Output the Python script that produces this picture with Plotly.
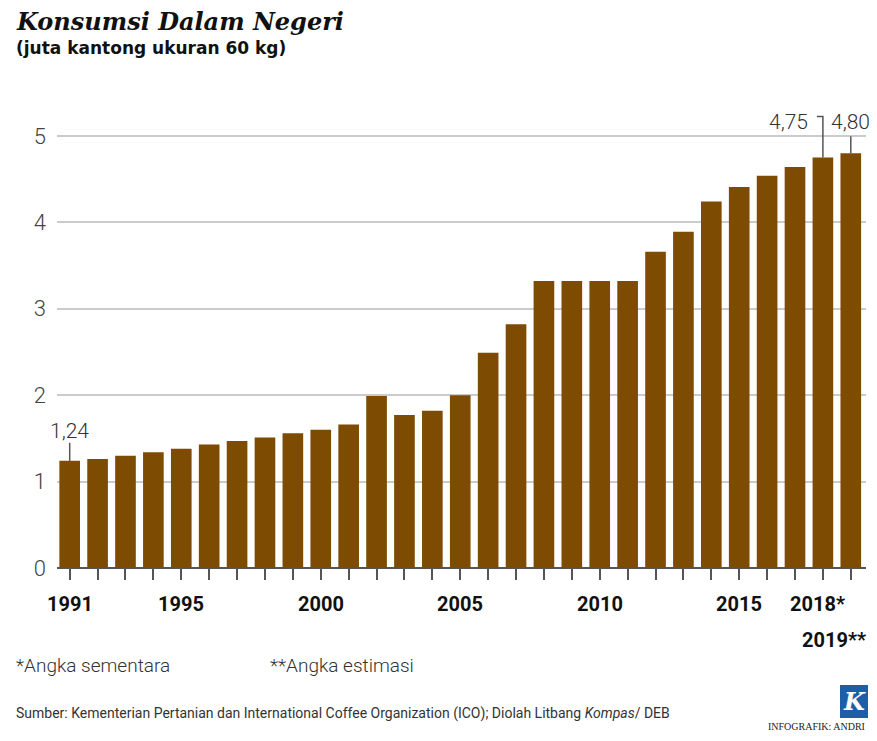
import plotly.graph_objects as go

years = list(range(1991, 2020))
values = [1.24, 1.26, 1.30, 1.34, 1.38, 1.43, 1.47, 1.51, 1.56, 1.60,
          1.66, 1.99, 1.77, 1.82, 2.00, 2.49, 2.82, 3.32, 3.32, 3.32,
          3.32, 3.66, 3.89, 4.24, 4.41, 4.54, 4.64, 4.75, 4.80]
label_years = [1991, 1995, 2000, 2005, 2010, 2015, 2018]
label_texts = ["1991", "1995", "2000", "2005", "2010", "2015", "2018*"]
est_year = 2019
est_text = "2019**"
callout_texts = ["1,24", "4,75", "4,80"]
y_ticks = [0, 1, 2, 3, 4, 5]

BAR = "#7E4B02"
GRID = "#cbcbcb"
AXIS = "#555555"
SANS = "Roboto, sans-serif"

# page offset (browser body margin)
OFF = 8
W, H = 877 - OFF, 741 - 2 * OFF
ML, MR, MT, MB = 57 - OFF, 11, 110 - OFF, H - (568 - OFF)

fig = go.Figure()
fig.add_trace(go.Bar(x=years, y=values, width=0.74,
                     marker=dict(color=BAR, line=dict(width=0)), hoverinfo="x+y"))

fig.update_layout(
    width=W, height=H,
    margin=dict(l=ML, r=MR, t=MT, b=MB, autoexpand=False),
    paper_bgcolor="white", plot_bgcolor="white",
    showlegend=False,
)
fig.update_xaxes(
    range=[1990.545, 2019.545], showgrid=False, zeroline=False,
    tickvals=years, ticks="outside", ticklen=11, tickwidth=1.5, tickcolor=AXIS,
    showticklabels=False, showline=False, automargin=False,
)
fig.update_yaxes(
    range=[0, 5.3], tickvals=y_ticks, showgrid=True, gridcolor=GRID, gridwidth=1.5,
    zeroline=True, zerolinecolor=AXIS, zerolinewidth=1.5,
    tickfont=dict(family=SANS, size=22, color="#444444", weight=300),
    ticklabelstandoff=10, ticks="", automargin=False,
)

# long ticks for labelled years
for yr in label_years:
    fig.add_shape(type="line", xref="x", yref="y", x0=yr, x1=yr,
                  ysizemode="pixel", yanchor=0, y0=-2, y1=-22,
                  line=dict(color=AXIS, width=1.5))
fig.add_shape(type="line", xref="x", yref="y", x0=est_year, x1=est_year,
              ysizemode="pixel", yanchor=0, y0=-2, y1=-62,
              line=dict(color=AXIS, width=1.5))

# x labels
for yr, txt in zip(label_years, label_texts):
    fig.add_annotation(x=yr, y=0, xref="x", yref="y", text=txt, showarrow=False,
                       yanchor="middle", xanchor="center", yshift=-36,
                       xshift=(-5 if txt.endswith("*") else 0),
                       font=dict(family=SANS, size=20, color="#111111", weight="bold"))
fig.add_annotation(x=est_year, y=0, xref="x", yref="y", text=est_text, showarrow=False,
                   yanchor="middle", xanchor="right", yshift=-72, xshift=17,
                   font=dict(family=SANS, size=20, color="#111111", weight="bold"))

# callouts
vals = dict(zip(years, values))
fig.add_shape(type="line", xref="x", yref="y", x0=1991, x1=1991,
              ysizemode="pixel", yanchor=vals[1991], y0=0, y1=18,
              line=dict(color=AXIS, width=1.5))
fig.add_annotation(x=1991, y=vals[1991], xref="x", yref="y", text=callout_texts[0],
                   showarrow=False, yanchor="middle", xanchor="center", yshift=30,
                   font=dict(family=SANS, size=21, color="#333333", weight=300))
fig.add_shape(type="path", xref="x", yref="y", xsizemode="pixel", ysizemode="pixel",
              xanchor=2018, yanchor=vals[2018],
              path="M 0 0 L 0 41 L -6 41",
              line=dict(color=AXIS, width=1.5))
fig.add_annotation(x=2018, y=vals[2018], xref="x", yref="y", text=callout_texts[1],
                   showarrow=False, yanchor="middle", xanchor="right", xshift=-13, yshift=36,
                   font=dict(family=SANS, size=21, color="#333333", weight=300))
fig.add_shape(type="line", xref="x", yref="y", x0=2019, x1=2019,
              ysizemode="pixel", yanchor=vals[2019], y0=0, y1=17,
              line=dict(color=AXIS, width=1.5))
fig.add_annotation(x=2019, y=vals[2019], xref="x", yref="y", text=callout_texts[2],
                   showarrow=False, yanchor="middle", xanchor="center", yshift=31,
                   font=dict(family=SANS, size=21, color="#333333", weight=300))


def paper_xy(px, py):
    """page pixel -> paper coordinates"""
    px -= OFF
    py -= OFF
    pw = W - ML - MR
    ph = H - MT - MB
    return (px - ML) / pw, 1 - (py - MT) / ph


# titles
x, y = paper_xy(14, 21)
fig.add_annotation(x=x, y=y, xref="paper", yref="paper", text="Konsumsi Dalam Negeri",
                   showarrow=False, xanchor="left", yanchor="middle",
                   font=dict(family="DejaVu Serif, serif", size=24, color="#111111",
                             weight="bold", style="italic"))
x, y = paper_xy(14, 48)
fig.add_annotation(x=x, y=y, xref="paper", yref="paper",
                   text="(juta kantong ukuran 60 kg)", showarrow=False,
                   xanchor="left", yanchor="middle",
                   font=dict(family="DejaVu Sans, sans-serif", size=17, color="#111111",
                             weight="bold"))

# footnotes
for px, txt in [(14, "*Angka sementara"), (268, "**Angka estimasi")]:
    x, y = paper_xy(px, 665)
    fig.add_annotation(x=x, y=y, xref="paper", yref="paper", text=txt, showarrow=False,
                       xanchor="left", yanchor="middle",
                       font=dict(family=SANS, size=19, color="#333333", weight=300))
x, y = paper_xy(14, 713)
fig.add_annotation(x=x, y=y, xref="paper", yref="paper",
                   text="Sumber: Kementerian Pertanian dan International Coffee Organization (ICO); "
                        "Diolah Litbang <i>Kompas</i>/ DEB",
                   showarrow=False, xanchor="left", yanchor="middle",
                   font=dict(family=SANS, size=14, color="#333333"))

# logo
x0, y0 = paper_xy(840, 718)
x1, y1 = paper_xy(868, 685)
fig.add_shape(type="rect", xref="paper", yref="paper", x0=x0, x1=x1, y0=y0, y1=y1,
              fillcolor="#1c5fa8", line=dict(width=0))
x, y = paper_xy(854, 701)
fig.add_annotation(x=x, y=y, xref="paper", yref="paper", text="K", showarrow=False,
                   xanchor="center", yanchor="middle",
                   font=dict(family="DejaVu Serif, serif", size=24, color="white",
                             style="italic", weight="bold"))
x, y = paper_xy(867, 726)
fig.add_annotation(x=x, y=y, xref="paper", yref="paper", text="INFOGRAFIK: ANDRI",
                   showarrow=False, xanchor="right", yanchor="middle",
                   font=dict(family="Liberation Serif, serif", size=10, color="#222222"))

fig.write_html("out.html")
